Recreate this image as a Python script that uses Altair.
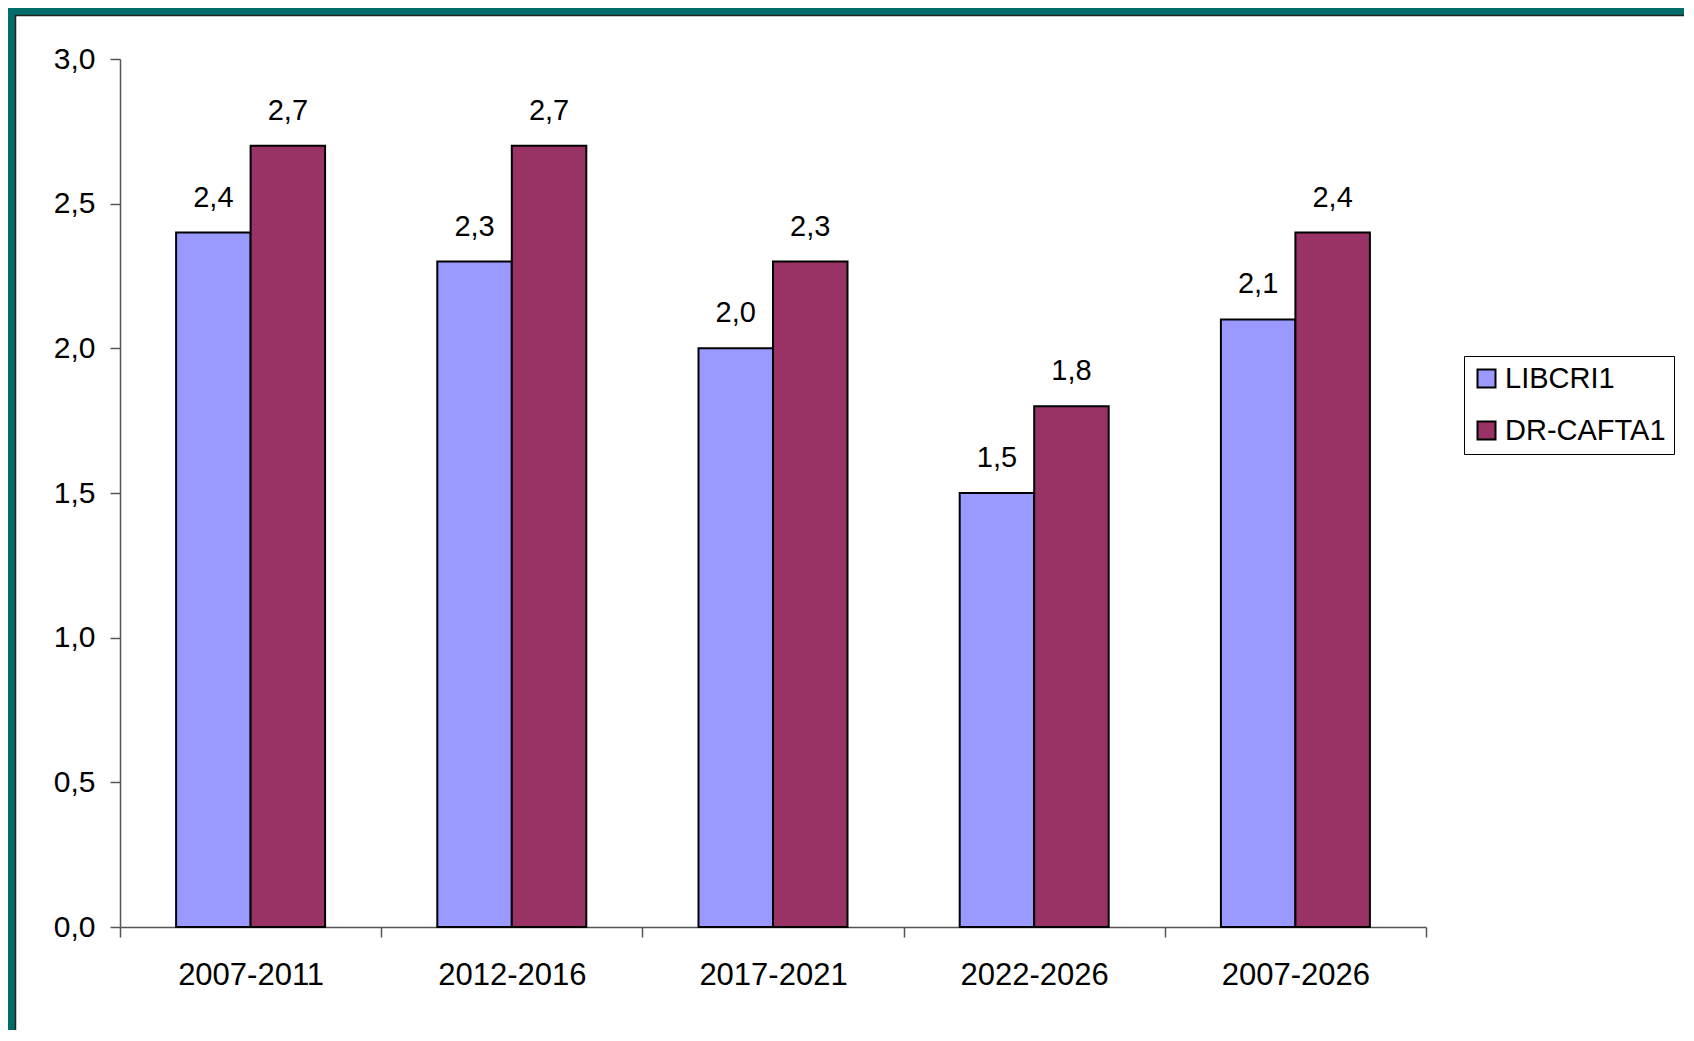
import altair as alt
import pandas as pd

categories = ["2007-2011", "2012-2016", "2017-2021", "2022-2026", "2007-2026"]
series = ["LIBCRI1", "DR-CAFTA1"]
libcri1 = [2.4, 2.3, 2.0, 1.5, 2.1]
drcafta1 = [2.7, 2.7, 2.3, 1.8, 2.4]
colors = ["#9999FF", "#993366"]
y_ticks = [0, 0.5, 1.0, 1.5, 2.0, 2.5, 3.0]

rows = []
for c, a, b in zip(categories, libcri1, drcafta1):
    rows.append({"period": c, "series": series[0], "value": a})
    rows.append({"period": c, "series": series[1], "value": b})
df = pd.DataFrame(rows)

FONT = "Liberation Sans"
W, H = 1306, 868
PAD = {"left": 112, "top": 51, "right": 258, "bottom": 103}

x_enc = alt.X(
    "period:N", sort=categories,
    scale=alt.Scale(paddingInner=0, paddingOuter=0),
    axis=alt.Axis(title=None, labelAngle=0, tickBand="extent", labelFontSize=31,
                  labelFont=FONT, labelColor="black", labelPadding=23,
                  tickSize=10, tickColor="#555", domainColor="#555",
                  domainWidth=1.5, tickWidth=1.5, labelBaseline="top"),
)
xo_enc = alt.XOffset("series:N", sort=series,
                     scale=alt.Scale(paddingInner=0, paddingOuter=0.753))
y_enc = alt.Y(
    "value:Q", scale=alt.Scale(domain=[0, 3], nice=False, zero=True),
    axis=alt.Axis(title=None, values=y_ticks, grid=False, labelFontSize=30,
                  labelFont=FONT, labelColor="black", labelPadding=15,
                  tickSize=10, tickColor="#555", domainColor="#555",
                  domainWidth=1.5, tickWidth=1.5,
                  labelExpr="replace(format(datum.value, '.1f'), '.', ',')"),
)

bars = alt.Chart(df).mark_bar(stroke="black", strokeWidth=2).encode(
    x=x_enc, xOffset=xo_enc, y=y_enc,
    color=alt.Color(
        "series:N", sort=series,
        scale=alt.Scale(domain=series, range=colors),
        legend=alt.Legend(
            title=None, orient="none", legendX=1344, legendY=297,
            symbolType="square", symbolSize=324, symbolStrokeWidth=2,
            symbolStrokeColor="black", labelFontSize=29, labelFont=FONT,
            labelColor="black", rowPadding=22, padding=8, labelOffset=4,
            strokeColor="black", fillColor="white", labelLimit=400,
        ),
    ),
)

labels = alt.Chart(df).transform_calculate(
    lab="replace(format(datum.value, '.1f'), '.', ',')"
).mark_text(fontSize=29, font=FONT, color="black", baseline="alphabetic", dy=-26).encode(
    x=alt.X("period:N", sort=categories), xOffset=alt.XOffset("series:N", sort=series),
    y=alt.Y("value:Q"), text="lab:N",
)

deco = pd.DataFrame({"k": [0]})
right_end = W + PAD["right"]
bottom_end = H + PAD["bottom"]
top_strip = alt.Chart(deco).mark_rule(color="#006D68", strokeWidth=7).encode(
    x=alt.value(-112), x2=alt.value(right_end), y=alt.value(-47.5))
top_line = alt.Chart(deco).mark_rule(color="#222", strokeWidth=1.5).encode(
    x=alt.value(-112), x2=alt.value(right_end), y=alt.value(-43.5))
left_strip = alt.Chart(deco).mark_rule(color="#006D68", strokeWidth=7).encode(
    x=alt.value(-108.5), y=alt.value(-51), y2=alt.value(bottom_end))
left_line = alt.Chart(deco).mark_rule(color="#222", strokeWidth=1.5).encode(
    x=alt.value(-104.5), y=alt.value(-44), y2=alt.value(bottom_end))

chart = alt.layer(bars, labels, top_strip, top_line, left_strip, left_line).properties(
    width=W, height=H,
    autosize=alt.AutoSizeParams(type="none"),
    padding=PAD,
    background="white",
).configure_view(stroke="transparent")

chart.save("out.html", embed_options={"renderer": "svg", "actions": False})
